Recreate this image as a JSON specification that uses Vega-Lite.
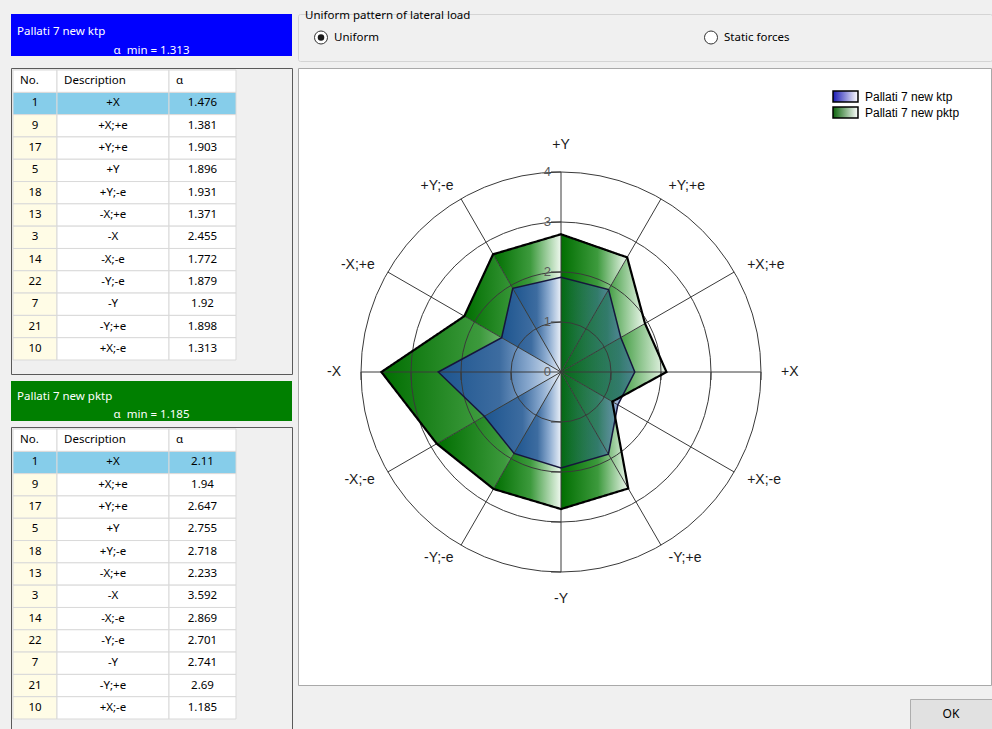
{
  "$schema": "https://vega.github.io/schema/vega-lite/v6.json",
  "background": "#f0f0f0",
  "padding": {"left": 10, "top": 9, "right": 0, "bottom": 0},
  "config": {"view": {"stroke": null}, "text": {"font": "Noto Sans", "fontSize": 11.5, "color": "#000000"}},
  "datasets": {
    "alpha": [
      {"series": "Pallati 7 new ktp", "no": 1, "desc": "+X", "a": 1.476},
      {"series": "Pallati 7 new ktp", "no": 9, "desc": "+X;+e", "a": 1.381},
      {"series": "Pallati 7 new ktp", "no": 17, "desc": "+Y;+e", "a": 1.903},
      {"series": "Pallati 7 new ktp", "no": 5, "desc": "+Y", "a": 1.896},
      {"series": "Pallati 7 new ktp", "no": 18, "desc": "+Y;-e", "a": 1.931},
      {"series": "Pallati 7 new ktp", "no": 13, "desc": "-X;+e", "a": 1.371},
      {"series": "Pallati 7 new ktp", "no": 3, "desc": "-X", "a": 2.455},
      {"series": "Pallati 7 new ktp", "no": 14, "desc": "-X;-e", "a": 1.772},
      {"series": "Pallati 7 new ktp", "no": 22, "desc": "-Y;-e", "a": 1.879},
      {"series": "Pallati 7 new ktp", "no": 7, "desc": "-Y", "a": 1.92},
      {"series": "Pallati 7 new ktp", "no": 21, "desc": "-Y;+e", "a": 1.898},
      {"series": "Pallati 7 new ktp", "no": 10, "desc": "+X;-e", "a": 1.313},
      {"series": "Pallati 7 new pktp", "no": 1, "desc": "+X", "a": 2.11},
      {"series": "Pallati 7 new pktp", "no": 9, "desc": "+X;+e", "a": 1.94},
      {"series": "Pallati 7 new pktp", "no": 17, "desc": "+Y;+e", "a": 2.647},
      {"series": "Pallati 7 new pktp", "no": 5, "desc": "+Y", "a": 2.755},
      {"series": "Pallati 7 new pktp", "no": 18, "desc": "+Y;-e", "a": 2.718},
      {"series": "Pallati 7 new pktp", "no": 13, "desc": "-X;+e", "a": 2.233},
      {"series": "Pallati 7 new pktp", "no": 3, "desc": "-X", "a": 3.592},
      {"series": "Pallati 7 new pktp", "no": 14, "desc": "-X;-e", "a": 2.869},
      {"series": "Pallati 7 new pktp", "no": 22, "desc": "-Y;-e", "a": 2.701},
      {"series": "Pallati 7 new pktp", "no": 7, "desc": "-Y", "a": 2.741},
      {"series": "Pallati 7 new pktp", "no": 21, "desc": "-Y;+e", "a": 2.69},
      {"series": "Pallati 7 new pktp", "no": 10, "desc": "+X;-e", "a": 1.185}
    ],
    "rings": [{"v": 0}, {"v": 1}, {"v": 2}, {"v": 3}, {"v": 4}],
    "headers": [{"h": "No.", "c0": 0, "c1": 1}, {"h": "Description", "c0": 1, "c1": 2}, {"h": "α", "c0": 2, "c1": 3}],
    "options": [{"option": "Uniform", "selected": true}, {"option": "Static forces", "selected": false}],
    "button": [{"label": "OK"}]
  },
  "hconcat": [
    {
      "vconcat": [
        {
          "vconcat": [
            {
              "width": 281, "height": 42,
              "view": {"fill": "#0000ff", "stroke": null},
              "data": {"name": "alpha"},
              "transform": [
                {"filter": "datum.series === 'Pallati 7 new ktp'"},
                {"aggregate": [{"op": "min", "field": "a", "as": "amin"}], "groupby": ["series"]},
                {"calculate": "'α\u00a0 min = ' + datum.amin", "as": "mintext"}
              ],
              "layer": [
                {"mark": {"type": "text", "align": "left", "baseline": "middle", "dx": 6, "dy": -3, "color": "#ffffff"},
                 "encoding": {"x": {"datum": 0, "type": "quantitative", "scale": {"domain": [0, 1]}, "axis": null}, "text": {"field": "series", "type": "nominal"}}},
                {"mark": {"type": "text", "align": "center", "baseline": "middle", "dy": 16, "color": "#ffffff"},
                 "encoding": {"x": {"datum": 0.5, "type": "quantitative", "scale": {"domain": [0, 1]}, "axis": null}, "text": {"field": "mintext", "type": "nominal"}}}
              ]
            },
            {
              "width": 281, "height": 306,
              "view": {"fill": "#f0f0f0", "stroke": "#5a5a5a"},
              "layer": [
                {"data": {"name": "alpha"}, "transform": [{"filter": "datum.series === 'Pallati 7 new ktp'"}],
                 "mark": {"type": "rect", "stroke": "#d9d9d9", "strokeWidth": 1},
                 "encoding": {
                   "x": {"datum": 0, "type": "quantitative", "scale": {"type": "linear", "domain": [0, 1, 2, 3], "range": [2, 46, 158, 225], "nice": false, "zero": false}, "axis": null},
                   "x2": {"datum": 1},
                   "y": {"field": "desc", "type": "nominal", "scale": {"type": "band", "domain": ["hdr", "+X", "+X;+e", "+Y;+e", "+Y", "+Y;-e", "-X;+e", "-X", "-X;-e", "-Y;-e", "-Y", "-Y;+e", "+X;-e"], "range": [2, 292], "paddingInner": 0, "paddingOuter": 0}, "axis": null},
                   "fill": {"condition": {"test": "datum.no === 1", "value": "#86cdea"}, "value": "#fffce6"}}},
                {"data": {"name": "alpha"}, "transform": [{"filter": "datum.series === 'Pallati 7 new ktp'"}],
                 "mark": {"type": "rect", "stroke": "#d9d9d9", "strokeWidth": 1},
                 "encoding": {
                   "x": {"datum": 1, "type": "quantitative", "scale": {"type": "linear", "domain": [0, 1, 2, 3], "range": [2, 46, 158, 225], "nice": false, "zero": false}, "axis": null},
                   "x2": {"datum": 2},
                   "y": {"field": "desc", "type": "nominal", "scale": {"type": "band", "domain": ["hdr", "+X", "+X;+e", "+Y;+e", "+Y", "+Y;-e", "-X;+e", "-X", "-X;-e", "-Y;-e", "-Y", "-Y;+e", "+X;-e"], "range": [2, 292], "paddingInner": 0, "paddingOuter": 0}, "axis": null},
                   "fill": {"condition": {"test": "datum.no === 1", "value": "#86cdea"}, "value": "#ffffff"}}},
                {"data": {"name": "alpha"}, "transform": [{"filter": "datum.series === 'Pallati 7 new ktp'"}],
                 "mark": {"type": "rect", "stroke": "#d9d9d9", "strokeWidth": 1},
                 "encoding": {
                   "x": {"datum": 2, "type": "quantitative", "scale": {"type": "linear", "domain": [0, 1, 2, 3], "range": [2, 46, 158, 225], "nice": false, "zero": false}, "axis": null},
                   "x2": {"datum": 3},
                   "y": {"field": "desc", "type": "nominal", "scale": {"type": "band", "domain": ["hdr", "+X", "+X;+e", "+Y;+e", "+Y", "+Y;-e", "-X;+e", "-X", "-X;-e", "-Y;-e", "-Y", "-Y;+e", "+X;-e"], "range": [2, 292], "paddingInner": 0, "paddingOuter": 0}, "axis": null},
                   "fill": {"condition": {"test": "datum.no === 1", "value": "#86cdea"}, "value": "#ffffff"}}},
                {"data": {"name": "headers"},
                 "mark": {"type": "rect", "fill": "#ffffff", "stroke": "#d9d9d9", "strokeWidth": 1},
                 "encoding": {
                   "x": {"field": "c0", "type": "quantitative", "scale": {"type": "linear", "domain": [0, 1, 2, 3], "range": [2, 46, 158, 225], "nice": false, "zero": false}, "axis": null},
                   "x2": {"field": "c1"},
                   "y": {"datum": "hdr", "type": "nominal", "scale": {"type": "band", "domain": ["hdr", "+X", "+X;+e", "+Y;+e", "+Y", "+Y;-e", "-X;+e", "-X", "-X;-e", "-Y;-e", "-Y", "-Y;+e", "+X;-e"], "range": [2, 292], "paddingInner": 0, "paddingOuter": 0}, "axis": null}}},
                {"data": {"name": "headers"},
                 "mark": {"type": "text", "align": "left", "baseline": "middle", "dx": 7},
                 "encoding": {
                   "x": {"field": "c0", "type": "quantitative", "scale": {"type": "linear", "domain": [0, 1, 2, 3], "range": [2, 46, 158, 225], "nice": false, "zero": false}, "axis": null},
                   "y": {"datum": "hdr", "type": "nominal", "scale": {"type": "band", "domain": ["hdr", "+X", "+X;+e", "+Y;+e", "+Y", "+Y;-e", "-X;+e", "-X", "-X;-e", "-Y;-e", "-Y", "-Y;+e", "+X;-e"], "range": [2, 292], "paddingInner": 0, "paddingOuter": 0}, "axis": null},
                   "text": {"field": "h", "type": "nominal"}}},
                {"data": {"name": "alpha"}, "transform": [{"filter": "datum.series === 'Pallati 7 new ktp'"}],
                 "mark": {"type": "text", "align": "center", "baseline": "middle"},
                 "encoding": {
                   "x": {"datum": 0.5, "type": "quantitative", "scale": {"type": "linear", "domain": [0, 1, 2, 3], "range": [2, 46, 158, 225], "nice": false, "zero": false}, "axis": null},
                   "y": {"field": "desc", "type": "nominal", "scale": {"type": "band", "domain": ["hdr", "+X", "+X;+e", "+Y;+e", "+Y", "+Y;-e", "-X;+e", "-X", "-X;-e", "-Y;-e", "-Y", "-Y;+e", "+X;-e"], "range": [2, 292], "paddingInner": 0, "paddingOuter": 0}, "axis": null},
                   "text": {"field": "no", "type": "nominal"}}},
                {"data": {"name": "alpha"}, "transform": [{"filter": "datum.series === 'Pallati 7 new ktp'"}],
                 "mark": {"type": "text", "align": "center", "baseline": "middle"},
                 "encoding": {
                   "x": {"datum": 1.5, "type": "quantitative", "scale": {"type": "linear", "domain": [0, 1, 2, 3], "range": [2, 46, 158, 225], "nice": false, "zero": false}, "axis": null},
                   "y": {"field": "desc", "type": "nominal", "scale": {"type": "band", "domain": ["hdr", "+X", "+X;+e", "+Y;+e", "+Y", "+Y;-e", "-X;+e", "-X", "-X;-e", "-Y;-e", "-Y", "-Y;+e", "+X;-e"], "range": [2, 292], "paddingInner": 0, "paddingOuter": 0}, "axis": null},
                   "text": {"field": "desc", "type": "nominal"}}},
                {"data": {"name": "alpha"}, "transform": [{"filter": "datum.series === 'Pallati 7 new ktp'"}],
                 "mark": {"type": "text", "align": "center", "baseline": "middle"},
                 "encoding": {
                   "x": {"datum": 2.5, "type": "quantitative", "scale": {"type": "linear", "domain": [0, 1, 2, 3], "range": [2, 46, 158, 225], "nice": false, "zero": false}, "axis": null},
                   "y": {"field": "desc", "type": "nominal", "scale": {"type": "band", "domain": ["hdr", "+X", "+X;+e", "+Y;+e", "+Y", "+Y;-e", "-X;+e", "-X", "-X;-e", "-Y;-e", "-Y", "-Y;+e", "+X;-e"], "range": [2, 292], "paddingInner": 0, "paddingOuter": 0}, "axis": null},
                   "text": {"field": "a", "type": "nominal"}}}
              ]
            }
          ],
          "spacing": 10
        },
        {
          "vconcat": [
            {
              "width": 281, "height": 40,
              "view": {"fill": "#007f00", "stroke": null},
              "data": {"name": "alpha"},
              "transform": [
                {"filter": "datum.series === 'Pallati 7 new pktp'"},
                {"aggregate": [{"op": "min", "field": "a", "as": "amin"}], "groupby": ["series"]},
                {"calculate": "'α\u00a0 min = ' + datum.amin", "as": "mintext"}
              ],
              "layer": [
                {"mark": {"type": "text", "align": "left", "baseline": "middle", "dx": 6, "dy": -4, "color": "#ffffff"},
                 "encoding": {"x": {"datum": 0, "type": "quantitative", "scale": {"domain": [0, 1]}, "axis": null}, "text": {"field": "series", "type": "nominal"}}},
                {"mark": {"type": "text", "align": "center", "baseline": "middle", "dy": 14, "color": "#ffffff"},
                 "encoding": {"x": {"datum": 0.5, "type": "quantitative", "scale": {"domain": [0, 1]}, "axis": null}, "text": {"field": "mintext", "type": "nominal"}}}
              ]
            },
            {
              "width": 281, "height": 306,
              "view": {"fill": "#f0f0f0", "stroke": "#5a5a5a"},
              "layer": [
                {"data": {"name": "alpha"}, "transform": [{"filter": "datum.series === 'Pallati 7 new pktp'"}],
                 "mark": {"type": "rect", "stroke": "#d9d9d9", "strokeWidth": 1},
                 "encoding": {
                   "x": {"datum": 0, "type": "quantitative", "scale": {"type": "linear", "domain": [0, 1, 2, 3], "range": [2, 46, 158, 225], "nice": false, "zero": false}, "axis": null},
                   "x2": {"datum": 1},
                   "y": {"field": "desc", "type": "nominal", "scale": {"type": "band", "domain": ["hdr", "+X", "+X;+e", "+Y;+e", "+Y", "+Y;-e", "-X;+e", "-X", "-X;-e", "-Y;-e", "-Y", "-Y;+e", "+X;-e"], "range": [2, 292], "paddingInner": 0, "paddingOuter": 0}, "axis": null},
                   "fill": {"condition": {"test": "datum.no === 1", "value": "#86cdea"}, "value": "#fffce6"}}},
                {"data": {"name": "alpha"}, "transform": [{"filter": "datum.series === 'Pallati 7 new pktp'"}],
                 "mark": {"type": "rect", "stroke": "#d9d9d9", "strokeWidth": 1},
                 "encoding": {
                   "x": {"datum": 1, "type": "quantitative", "scale": {"type": "linear", "domain": [0, 1, 2, 3], "range": [2, 46, 158, 225], "nice": false, "zero": false}, "axis": null},
                   "x2": {"datum": 2},
                   "y": {"field": "desc", "type": "nominal", "scale": {"type": "band", "domain": ["hdr", "+X", "+X;+e", "+Y;+e", "+Y", "+Y;-e", "-X;+e", "-X", "-X;-e", "-Y;-e", "-Y", "-Y;+e", "+X;-e"], "range": [2, 292], "paddingInner": 0, "paddingOuter": 0}, "axis": null},
                   "fill": {"condition": {"test": "datum.no === 1", "value": "#86cdea"}, "value": "#ffffff"}}},
                {"data": {"name": "alpha"}, "transform": [{"filter": "datum.series === 'Pallati 7 new pktp'"}],
                 "mark": {"type": "rect", "stroke": "#d9d9d9", "strokeWidth": 1},
                 "encoding": {
                   "x": {"datum": 2, "type": "quantitative", "scale": {"type": "linear", "domain": [0, 1, 2, 3], "range": [2, 46, 158, 225], "nice": false, "zero": false}, "axis": null},
                   "x2": {"datum": 3},
                   "y": {"field": "desc", "type": "nominal", "scale": {"type": "band", "domain": ["hdr", "+X", "+X;+e", "+Y;+e", "+Y", "+Y;-e", "-X;+e", "-X", "-X;-e", "-Y;-e", "-Y", "-Y;+e", "+X;-e"], "range": [2, 292], "paddingInner": 0, "paddingOuter": 0}, "axis": null},
                   "fill": {"condition": {"test": "datum.no === 1", "value": "#86cdea"}, "value": "#ffffff"}}},
                {"data": {"name": "headers"},
                 "mark": {"type": "rect", "fill": "#ffffff", "stroke": "#d9d9d9", "strokeWidth": 1},
                 "encoding": {
                   "x": {"field": "c0", "type": "quantitative", "scale": {"type": "linear", "domain": [0, 1, 2, 3], "range": [2, 46, 158, 225], "nice": false, "zero": false}, "axis": null},
                   "x2": {"field": "c1"},
                   "y": {"datum": "hdr", "type": "nominal", "scale": {"type": "band", "domain": ["hdr", "+X", "+X;+e", "+Y;+e", "+Y", "+Y;-e", "-X;+e", "-X", "-X;-e", "-Y;-e", "-Y", "-Y;+e", "+X;-e"], "range": [2, 292], "paddingInner": 0, "paddingOuter": 0}, "axis": null}}},
                {"data": {"name": "headers"},
                 "mark": {"type": "text", "align": "left", "baseline": "middle", "dx": 7},
                 "encoding": {
                   "x": {"field": "c0", "type": "quantitative", "scale": {"type": "linear", "domain": [0, 1, 2, 3], "range": [2, 46, 158, 225], "nice": false, "zero": false}, "axis": null},
                   "y": {"datum": "hdr", "type": "nominal", "scale": {"type": "band", "domain": ["hdr", "+X", "+X;+e", "+Y;+e", "+Y", "+Y;-e", "-X;+e", "-X", "-X;-e", "-Y;-e", "-Y", "-Y;+e", "+X;-e"], "range": [2, 292], "paddingInner": 0, "paddingOuter": 0}, "axis": null},
                   "text": {"field": "h", "type": "nominal"}}},
                {"data": {"name": "alpha"}, "transform": [{"filter": "datum.series === 'Pallati 7 new pktp'"}],
                 "mark": {"type": "text", "align": "center", "baseline": "middle"},
                 "encoding": {
                   "x": {"datum": 0.5, "type": "quantitative", "scale": {"type": "linear", "domain": [0, 1, 2, 3], "range": [2, 46, 158, 225], "nice": false, "zero": false}, "axis": null},
                   "y": {"field": "desc", "type": "nominal", "scale": {"type": "band", "domain": ["hdr", "+X", "+X;+e", "+Y;+e", "+Y", "+Y;-e", "-X;+e", "-X", "-X;-e", "-Y;-e", "-Y", "-Y;+e", "+X;-e"], "range": [2, 292], "paddingInner": 0, "paddingOuter": 0}, "axis": null},
                   "text": {"field": "no", "type": "nominal"}}},
                {"data": {"name": "alpha"}, "transform": [{"filter": "datum.series === 'Pallati 7 new pktp'"}],
                 "mark": {"type": "text", "align": "center", "baseline": "middle"},
                 "encoding": {
                   "x": {"datum": 1.5, "type": "quantitative", "scale": {"type": "linear", "domain": [0, 1, 2, 3], "range": [2, 46, 158, 225], "nice": false, "zero": false}, "axis": null},
                   "y": {"field": "desc", "type": "nominal", "scale": {"type": "band", "domain": ["hdr", "+X", "+X;+e", "+Y;+e", "+Y", "+Y;-e", "-X;+e", "-X", "-X;-e", "-Y;-e", "-Y", "-Y;+e", "+X;-e"], "range": [2, 292], "paddingInner": 0, "paddingOuter": 0}, "axis": null},
                   "text": {"field": "desc", "type": "nominal"}}},
                {"data": {"name": "alpha"}, "transform": [{"filter": "datum.series === 'Pallati 7 new pktp'"}],
                 "mark": {"type": "text", "align": "center", "baseline": "middle"},
                 "encoding": {
                   "x": {"datum": 2.5, "type": "quantitative", "scale": {"type": "linear", "domain": [0, 1, 2, 3], "range": [2, 46, 158, 225], "nice": false, "zero": false}, "axis": null},
                   "y": {"field": "desc", "type": "nominal", "scale": {"type": "band", "domain": ["hdr", "+X", "+X;+e", "+Y;+e", "+Y", "+Y;-e", "-X;+e", "-X", "-X;-e", "-Y;-e", "-Y", "-Y;+e", "+X;-e"], "range": [2, 292], "paddingInner": 0, "paddingOuter": 0}, "axis": null},
                   "text": {"field": "a", "type": "nominal"}}}
              ]
            }
          ],
          "spacing": 5
        }
      ],
      "spacing": 6
    },
    {
      "vconcat": [
        {
          "vconcat": [
            {
              "width": 694, "height": 47,
              "view": {"fill": null, "stroke": "#d4d4d4", "cornerRadius": 2},
              "title": {"text": "Uniform pattern of lateral load", "anchor": "start", "orient": "top", "offset": -7, "dx": 7, "font": "Noto Sans", "fontSize": 11.5, "fontWeight": "normal", "color": "#000000"},
              "data": {"name": "options"},
              "layer": [
                {"mark": {"type": "point", "shape": "circle", "size": 169, "filled": true, "fill": "#ffffff", "stroke": "#333333", "strokeWidth": 1, "opacity": 1},
                 "encoding": {"x": {"field": "option", "type": "nominal", "scale": {"type": "point", "domain": ["Uniform", "Static forces"], "range": [23, 413], "padding": 0}, "axis": null}}},
                {"transform": [{"filter": "datum.selected"}], "mark": {"type": "point", "shape": "circle", "size": 42, "filled": true, "color": "#1a1a1a", "opacity": 1},
                 "encoding": {"x": {"field": "option", "type": "nominal", "scale": {"type": "point", "domain": ["Uniform", "Static forces"], "range": [23, 413], "padding": 0}, "axis": null}}},
                {"mark": {"type": "text", "align": "left", "baseline": "middle", "dx": 13},
                 "encoding": {"x": {"field": "option", "type": "nominal", "scale": {"type": "point", "domain": ["Uniform", "Static forces"], "range": [23, 413], "padding": 0}, "axis": null}, "text": {"field": "option", "type": "nominal"}}}
              ]
            },
            {
              "width": 693, "height": 617,
              "view": {"fill": "#ffffff", "stroke": "#a9a9a9"},
              "layer": [
                {
                  "data": {"name": "alpha"},
                  "transform": [
                    {"filter": "datum.series === 'Pallati 7 new pktp'"},
                    {"window": [{"op": "row_number", "as": "rn"}]},
                    {"calculate": "(datum.rn - 1) * PI / 6", "as": "th"},
                    {"window": [{"op": "lead", "field": "a", "as": "an"}, {"op": "first_value", "field": "a", "as": "a0"}], "sort": [{"field": "rn"}], "frame": [null, null]},
                    {"calculate": "isValid(datum.an) ? datum.an : datum.a0", "as": "a2"},
                    {"calculate": "0", "as": "c"},
                    {"fold": ["c", "a", "a2"], "as": ["vert", "r"]},
                    {"calculate": "datum.vert === 'a2' ? datum.th + PI / 6 : datum.th", "as": "phi"},
                    {"calculate": "datum.r * cos(datum.phi)", "as": "px"},
                    {"calculate": "datum.r * sin(datum.phi)", "as": "py"}
                  ],
                  "mark": {"type": "line", "interpolate": "linear-closed", "filled": true, "strokeWidth": 0,
                    "fill": {"gradient": "linear", "x1": 0, "y1": 0, "x2": 1, "y2": 0, "stops": [{"offset": 0, "color": "#006e00"}, {"offset": 0.55, "color": "#3d9a3d"}, {"offset": 1, "color": "#eef8ee"}]}},
                  "encoding": {
                    "x": {"field": "px", "type": "quantitative", "scale": {"domain": [-5.26, 8.6], "nice": false, "zero": false}, "axis": null},
                    "y": {"field": "py", "type": "quantitative", "scale": {"domain": [-6.26, 6.08], "nice": false, "zero": false}, "axis": null},
                    "detail": {"field": "rn", "type": "nominal"},
                    "order": {"field": "vert", "type": "ordinal"}
                  }
                },
                {
                  "data": {"name": "alpha"},
                  "transform": [
                    {"filter": "datum.series === 'Pallati 7 new ktp'"},
                    {"window": [{"op": "row_number", "as": "rn"}]},
                    {"calculate": "(datum.rn - 1) * PI / 6", "as": "th"},
                    {"window": [{"op": "lead", "field": "a", "as": "an"}, {"op": "first_value", "field": "a", "as": "a0"}], "sort": [{"field": "rn"}], "frame": [null, null]},
                    {"calculate": "isValid(datum.an) ? datum.an : datum.a0", "as": "a2"},
                    {"filter": "datum.rn >= 4 && datum.rn <= 9"},
                    {"calculate": "0", "as": "c"},
                    {"fold": ["c", "a", "a2"], "as": ["vert", "r"]},
                    {"calculate": "datum.vert === 'a2' ? datum.th + PI / 6 : datum.th", "as": "phi"},
                    {"calculate": "datum.r * cos(datum.phi)", "as": "px"},
                    {"calculate": "datum.r * sin(datum.phi)", "as": "py"}
                  ],
                  "mark": {"type": "line", "interpolate": "linear-closed", "filled": true, "strokeWidth": 0,
                    "fill": {"gradient": "linear", "x1": 0, "y1": 0, "x2": 1, "y2": 0, "stops": [{"offset": 0, "color": "#1d558f"}, {"offset": 0.5, "color": "#3d6ca0"}, {"offset": 0.75, "color": "#8cabd0"}, {"offset": 1, "color": "#eaf0f8"}]}},
                  "encoding": {
                    "x": {"field": "px", "type": "quantitative", "scale": {"domain": [-5.26, 8.6], "nice": false, "zero": false}, "axis": null},
                    "y": {"field": "py", "type": "quantitative", "scale": {"domain": [-6.26, 6.08], "nice": false, "zero": false}, "axis": null},
                    "detail": {"field": "rn", "type": "nominal"},
                    "order": {"field": "vert", "type": "ordinal"}
                  }
                },
                {
                  "data": {"name": "alpha"},
                  "transform": [
                    {"filter": "datum.series === 'Pallati 7 new ktp'"},
                    {"window": [{"op": "row_number", "as": "rn"}]},
                    {"calculate": "(datum.rn - 1) * PI / 6", "as": "th"},
                    {"window": [{"op": "lead", "field": "a", "as": "an"}, {"op": "first_value", "field": "a", "as": "a0"}], "sort": [{"field": "rn"}], "frame": [null, null]},
                    {"calculate": "isValid(datum.an) ? datum.an : datum.a0", "as": "a2"},
                    {"filter": "datum.rn <= 3 || datum.rn >= 10"},
                    {"calculate": "0", "as": "c"},
                    {"fold": ["c", "a", "a2"], "as": ["vert", "r"]},
                    {"calculate": "datum.vert === 'a2' ? datum.th + PI / 6 : datum.th", "as": "phi"},
                    {"calculate": "datum.r * cos(datum.phi)", "as": "px"},
                    {"calculate": "datum.r * sin(datum.phi)", "as": "py"}
                  ],
                  "mark": {"type": "line", "interpolate": "linear-closed", "filled": true, "strokeWidth": 0,
                    "fill": {"gradient": "linear", "x1": 0, "y1": 0, "x2": 1, "y2": 0, "stops": [{"offset": 0, "color": "rgba(25,70,150,0.12)"}, {"offset": 1, "color": "rgba(40,90,165,0.55)"}]}},
                  "encoding": {
                    "x": {"field": "px", "type": "quantitative", "scale": {"domain": [-5.26, 8.6], "nice": false, "zero": false}, "axis": null},
                    "y": {"field": "py", "type": "quantitative", "scale": {"domain": [-6.26, 6.08], "nice": false, "zero": false}, "axis": null},
                    "detail": {"field": "rn", "type": "nominal"},
                    "order": {"field": "vert", "type": "ordinal"}
                  }
                },
                {
                  "data": {"name": "rings"},
                  "transform": [{"filter": "datum.v > 0"}],
                  "mark": {"type": "point", "shape": "circle", "filled": false, "color": "#3a3a3a", "strokeWidth": 1, "opacity": 1},
                  "encoding": {
                    "x": {"datum": 0, "type": "quantitative", "scale": {"domain": [-5.26, 8.6], "nice": false, "zero": false}, "axis": null},
                    "y": {"datum": 0, "type": "quantitative", "scale": {"domain": [-6.26, 6.08], "nice": false, "zero": false}, "axis": null},
                    "size": {"field": "v", "type": "quantitative", "scale": {"type": "pow", "exponent": 2, "domain": [0, 4], "range": [0, 160000]}, "legend": null}
                  }
                },
                {
                  "data": {"name": "alpha"},
                  "transform": [
                    {"filter": "datum.series === 'Pallati 7 new pktp'"},
                    {"window": [{"op": "row_number", "as": "rn"}]},
                    {"calculate": "(datum.rn - 1) * PI / 6", "as": "th"},
                    {"calculate": "4 * cos(datum.th)", "as": "ex"},
                    {"calculate": "4 * sin(datum.th)", "as": "ey"},
                    {"calculate": "0", "as": "ox"}
                  ],
                  "mark": {"type": "rule", "color": "#3a3a3a", "strokeWidth": 1},
                  "encoding": {
                    "x": {"field": "ox", "type": "quantitative", "scale": {"domain": [-5.26, 8.6], "nice": false, "zero": false}, "axis": null},
                    "y": {"field": "ox", "type": "quantitative", "scale": {"domain": [-6.26, 6.08], "nice": false, "zero": false}, "axis": null},
                    "x2": {"field": "ex"},
                    "y2": {"field": "ey"}
                  }
                },
                {
                  "data": {"name": "rings"},
                  "transform": [{"filter": "datum.v > 0"}, {"calculate": "-datum.v", "as": "nv"}, {"fold": ["v", "nv"], "as": ["side", "tv"]}, {"calculate": "-0.2", "as": "t0"}, {"calculate": "0", "as": "t1"}],
                  "mark": {"type": "rule", "color": "#3a3a3a", "strokeWidth": 1},
                  "encoding": {
                    "x": {"field": "t0", "type": "quantitative", "scale": {"domain": [-5.26, 8.6], "nice": false, "zero": false}, "axis": null},
                    "x2": {"field": "t1"},
                    "y": {"field": "tv", "type": "quantitative", "scale": {"domain": [-6.26, 6.08], "nice": false, "zero": false}, "axis": null}
                  }
                },
                {
                  "data": {"name": "rings"},
                  "transform": [{"filter": "datum.v > 0"}, {"calculate": "-datum.v", "as": "nv"}, {"fold": ["v", "nv"], "as": ["side", "tv"]}, {"calculate": "-0.16", "as": "t0"}, {"calculate": "0", "as": "t1"}],
                  "mark": {"type": "rule", "color": "#3a3a3a", "strokeWidth": 1},
                  "encoding": {
                    "x": {"field": "tv", "type": "quantitative", "scale": {"domain": [-5.26, 8.6], "nice": false, "zero": false}, "axis": null},
                    "y": {"field": "t1", "type": "quantitative", "scale": {"domain": [-6.26, 6.08], "nice": false, "zero": false}, "axis": null},
                    "y2": {"field": "t0"}
                  }
                },
                {
                  "data": {"name": "alpha"},
                  "transform": [
                    {"filter": "datum.series === 'Pallati 7 new ktp'"},
                    {"window": [{"op": "row_number", "as": "rn"}]},
                    {"calculate": "(datum.rn - 1) * PI / 6", "as": "th"},
                    {"calculate": "datum.a * cos(datum.th)", "as": "px"},
                    {"calculate": "datum.a * sin(datum.th)", "as": "py"}
                  ],
                  "mark": {"type": "line", "interpolate": "linear-closed", "strokeJoin": "miter", "stroke": "#16163c", "strokeWidth": 1.5},
                  "encoding": {
                    "x": {"field": "px", "type": "quantitative", "scale": {"domain": [-5.26, 8.6], "nice": false, "zero": false}, "axis": null},
                    "y": {"field": "py", "type": "quantitative", "scale": {"domain": [-6.26, 6.08], "nice": false, "zero": false}, "axis": null},
                    "order": {"field": "rn", "type": "quantitative"},
                    "opacity": {
                      "field": "series", "type": "ordinal",
                      "scale": {"domain": ["Pallati 7 new ktp"], "range": [1]},
                      "legend": {
                        "title": null, "orient": "none", "legendX": 828, "legendY": 76,
                        "symbolType": "M-2.27,-1H2.27V1H-2.27Z", "symbolSize": 121,
                        "symbolStrokeWidth": 1.5, "symbolStrokeColor": "#000000",
                        "labelFont": "Liberation Sans", "labelFontSize": 12, "labelColor": "#000000",
                        "labelOffset": 13,
                        "encode": {"symbols": {"update": {
                          "fill": {"value": {"gradient": "linear", "x1": 0, "y1": 0, "x2": 1, "y2": 0, "stops": [{"offset": 0, "color": "#1a1ab4"}, {"offset": 1, "color": "#ffffff"}]}},
                          "fillOpacity": {"value": 1},
                          "stroke": {"value": "#000000"},
                          "strokeWidth": {"value": 1.5}
                        }}}
                      }
                    }
                  }
                },
                {
                  "data": {"name": "alpha"},
                  "transform": [
                    {"filter": "datum.series === 'Pallati 7 new pktp'"},
                    {"window": [{"op": "row_number", "as": "rn"}]},
                    {"calculate": "(datum.rn - 1) * PI / 6", "as": "th"},
                    {"calculate": "datum.a * cos(datum.th)", "as": "px"},
                    {"calculate": "datum.a * sin(datum.th)", "as": "py"}
                  ],
                  "mark": {"type": "line", "interpolate": "linear-closed", "strokeJoin": "miter", "stroke": "#000000", "strokeWidth": 2.2},
                  "encoding": {
                    "x": {"field": "px", "type": "quantitative", "scale": {"domain": [-5.26, 8.6], "nice": false, "zero": false}, "axis": null},
                    "y": {"field": "py", "type": "quantitative", "scale": {"domain": [-6.26, 6.08], "nice": false, "zero": false}, "axis": null},
                    "order": {"field": "rn", "type": "quantitative"},
                    "strokeDash": {
                      "field": "series", "type": "nominal",
                      "scale": {"domain": ["Pallati 7 new pktp"], "range": [[1, 0]]},
                      "legend": {
                        "title": null, "orient": "none", "legendX": 828, "legendY": 92,
                        "symbolType": "M-2.27,-1H2.27V1H-2.27Z", "symbolSize": 121,
                        "symbolStrokeWidth": 1.5, "symbolStrokeColor": "#000000",
                        "labelFont": "Liberation Sans", "labelFontSize": 12, "labelColor": "#000000",
                        "labelOffset": 13,
                        "encode": {"symbols": {"update": {
                          "fill": {"value": {"gradient": "linear", "x1": 0, "y1": 0, "x2": 1, "y2": 0, "stops": [{"offset": 0, "color": "#0c640c"}, {"offset": 1, "color": "#ffffff"}]}},
                          "fillOpacity": {"value": 1},
                          "opacity": {"value": 1},
                          "stroke": {"value": "#000000"},
                          "strokeWidth": {"value": 1.5},
                          "strokeDash": {"value": [1, 0]}
                        }}}
                      }
                    }
                  }
                },
                {
                  "data": {"name": "rings"},
                  "transform": [{"calculate": "0", "as": "ox"}],
                  "mark": {"type": "text", "align": "right", "baseline": "middle", "dx": -10, "font": "Liberation Sans", "fontSize": 13, "color": "#5a5a5a"},
                  "encoding": {
                    "x": {"field": "ox", "type": "quantitative", "scale": {"domain": [-5.26, 8.6], "nice": false, "zero": false}, "axis": null},
                    "y": {"field": "v", "type": "quantitative", "scale": {"domain": [-6.26, 6.08], "nice": false, "zero": false}, "axis": null},
                    "text": {"field": "v", "type": "nominal"}
                  }
                },
                {
                  "data": {"name": "alpha"},
                  "transform": [
                    {"filter": "datum.series === 'Pallati 7 new pktp'"},
                    {"window": [{"op": "row_number", "as": "rn"}]},
                    {"calculate": "(datum.rn - 1) * PI / 6", "as": "th"},
                    {"filter": "cos(datum.th) > 0.1"},
                    {"calculate": "abs(sin(datum.th)) < 0.1 ? 4.4 : 4.3", "as": "lr"},
                    {"calculate": "datum.lr * cos(datum.th)", "as": "lx"},
                    {"calculate": "datum.lr * sin(datum.th)", "as": "ly"}
                  ],
                  "mark": {"type": "text", "align": "left", "baseline": "middle", "font": "Liberation Sans", "fontSize": 14, "color": "#1a1a1a"},
                  "encoding": {
                    "x": {"field": "lx", "type": "quantitative", "scale": {"domain": [-5.26, 8.6], "nice": false, "zero": false}, "axis": null},
                    "y": {"field": "ly", "type": "quantitative", "scale": {"domain": [-6.26, 6.08], "nice": false, "zero": false}, "axis": null},
                    "text": {"field": "desc", "type": "nominal"}
                  }
                },
                {
                  "data": {"name": "alpha"},
                  "transform": [
                    {"filter": "datum.series === 'Pallati 7 new pktp'"},
                    {"window": [{"op": "row_number", "as": "rn"}]},
                    {"calculate": "(datum.rn - 1) * PI / 6", "as": "th"},
                    {"filter": "cos(datum.th) < -0.1"},
                    {"calculate": "abs(sin(datum.th)) < 0.1 ? 4.4 : 4.3", "as": "lr"},
                    {"calculate": "datum.lr * cos(datum.th)", "as": "lx"},
                    {"calculate": "datum.lr * sin(datum.th)", "as": "ly"}
                  ],
                  "mark": {"type": "text", "align": "right", "baseline": "middle", "font": "Liberation Sans", "fontSize": 14, "color": "#1a1a1a"},
                  "encoding": {
                    "x": {"field": "lx", "type": "quantitative", "scale": {"domain": [-5.26, 8.6], "nice": false, "zero": false}, "axis": null},
                    "y": {"field": "ly", "type": "quantitative", "scale": {"domain": [-6.26, 6.08], "nice": false, "zero": false}, "axis": null},
                    "text": {"field": "desc", "type": "nominal"}
                  }
                },
                {
                  "data": {"name": "alpha"},
                  "transform": [
                    {"filter": "datum.series === 'Pallati 7 new pktp'"},
                    {"window": [{"op": "row_number", "as": "rn"}]},
                    {"calculate": "(datum.rn - 1) * PI / 6", "as": "th"},
                    {"filter": "sin(datum.th) > 0.9"},
                    {"calculate": "4.4 * cos(datum.th)", "as": "lx"},
                    {"calculate": "4.4 * sin(datum.th)", "as": "ly"}
                  ],
                  "mark": {"type": "text", "align": "center", "baseline": "bottom", "font": "Liberation Sans", "fontSize": 14, "color": "#1a1a1a"},
                  "encoding": {
                    "x": {"field": "lx", "type": "quantitative", "scale": {"domain": [-5.26, 8.6], "nice": false, "zero": false}, "axis": null},
                    "y": {"field": "ly", "type": "quantitative", "scale": {"domain": [-6.26, 6.08], "nice": false, "zero": false}, "axis": null},
                    "text": {"field": "desc", "type": "nominal"}
                  }
                },
                {
                  "data": {"name": "alpha"},
                  "transform": [
                    {"filter": "datum.series === 'Pallati 7 new pktp'"},
                    {"window": [{"op": "row_number", "as": "rn"}]},
                    {"calculate": "(datum.rn - 1) * PI / 6", "as": "th"},
                    {"filter": "sin(datum.th) < -0.9"},
                    {"calculate": "4.4 * cos(datum.th)", "as": "lx"},
                    {"calculate": "4.4 * sin(datum.th)", "as": "ly"}
                  ],
                  "mark": {"type": "text", "align": "center", "baseline": "top", "font": "Liberation Sans", "fontSize": 14, "color": "#1a1a1a"},
                  "encoding": {
                    "x": {"field": "lx", "type": "quantitative", "scale": {"domain": [-5.26, 8.6], "nice": false, "zero": false}, "axis": null},
                    "y": {"field": "ly", "type": "quantitative", "scale": {"domain": [-6.26, 6.08], "nice": false, "zero": false}, "axis": null},
                    "text": {"field": "desc", "type": "nominal"}
                  }
                }
              ]
            }
          ],
          "spacing": 5
        },
        {
          "hconcat": [
            {"width": 611, "height": 30, "data": {"name": "button"}, "mark": {"type": "text", "opacity": 0}, "encoding": {"text": {"field": "label", "type": "nominal"}}},
            {
              "width": 82, "height": 30,
              "view": {"fill": "#e1e1e1", "stroke": "#adadad"},
              "data": {"name": "button"},
              "mark": {"type": "text", "fontSize": 12, "align": "center", "baseline": "middle"},
              "encoding": {"text": {"field": "label", "type": "nominal"}}
            }
          ],
          "spacing": 0
        }
      ],
      "spacing": 12
    }
  ],
  "spacing": 4
}
